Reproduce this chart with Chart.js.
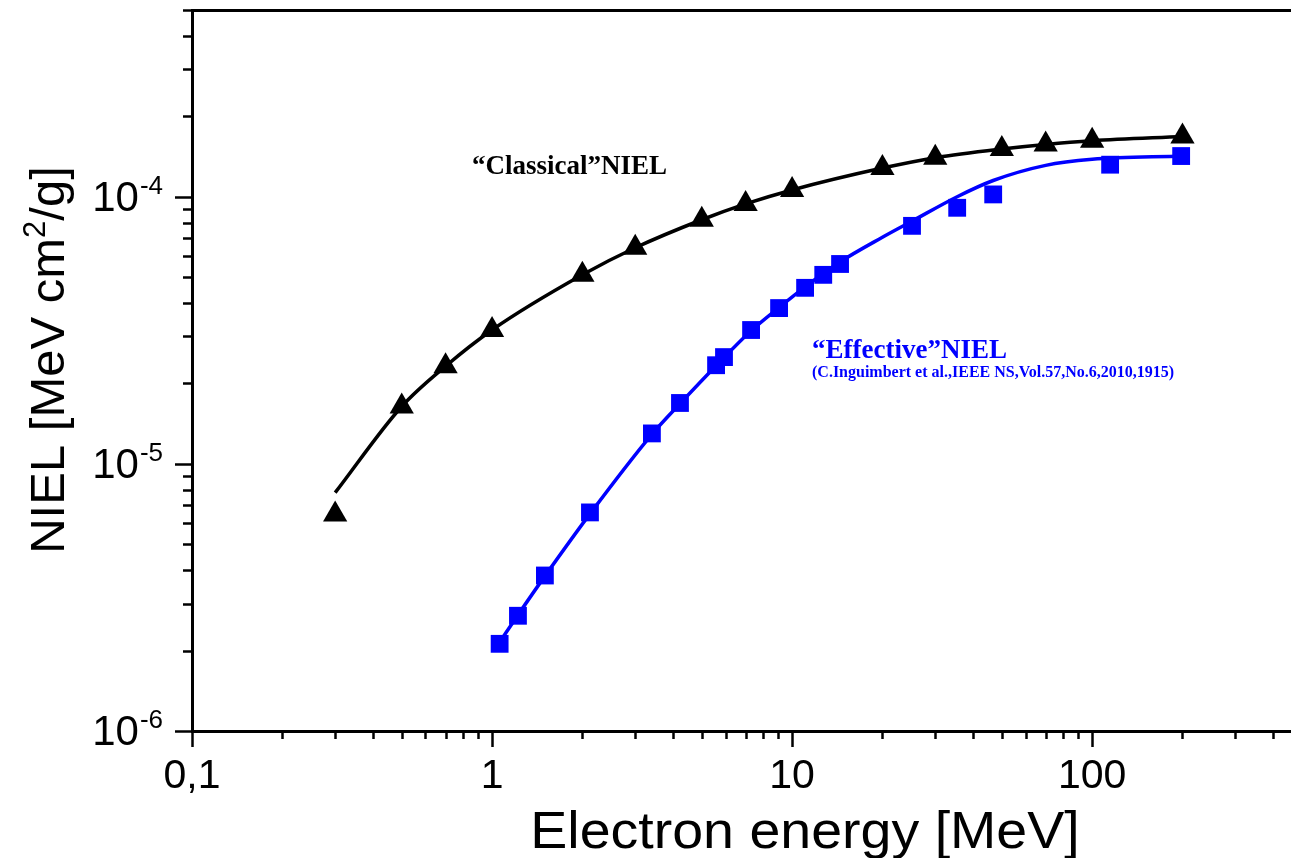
<!DOCTYPE html>
<html>
<head>
<meta charset="utf-8">
<script src="https://cdn.jsdelivr.net/npm/chart.js@4"></script>
<style>
  html, body { margin: 0; padding: 0; background: #fff; overflow: hidden; }
  canvas { display: block; }
</style>
</head>
<body>
<canvas id="nielChart" width="1291" height="858"></canvas>
<script>
// "Classical" NIEL (triangles)
const classicalEnergy = [0.3, 0.5, 0.7, 1, 2, 3, 5, 7, 10, 20, 30, 50, 70, 100, 200];
const classicalNiel = [6.46e-6, 1.64e-5, 2.32e-5, 3.17e-5, 5.1e-5, 6.44e-5, 8.2e-5, 9.4e-5,
    1.06e-4, 1.28e-4, 1.40e-4, 1.51e-4, 1.57e-4, 1.62e-4, 1.68e-4];
// fit curve through the classical points
const classicalFitEnergy = [0.3, 0.5, 0.7, 1, 2, 3, 5, 7, 10, 20, 30, 50, 70, 100, 200];
const classicalFitNiel = [7.8e-6, 1.64e-5, 2.32e-5, 3.17e-5, 5.1e-5, 6.44e-5, 8.2e-5, 9.4e-5,
    1.06e-4, 1.28e-4, 1.40e-4, 1.51e-4, 1.57e-4, 1.62e-4, 1.68e-4];

// "Effective" NIEL (squares)
const effectiveEnergy = [1.06, 1.22, 1.5, 2.12, 3.41, 4.23, 5.58, 5.93, 7.3, 9.05, 11.05,
    12.7, 14.45, 25.1, 35.5, 46.8, 114.8, 198];
const effectiveNiel = [2.12e-6, 2.70e-6, 3.82e-6, 6.58e-6, 1.30e-5, 1.69e-5, 2.34e-5, 2.51e-5,
    3.17e-5, 3.83e-5, 4.56e-5, 5.10e-5, 5.6e-5, 7.78e-5, 9.09e-5, 1.02e-4, 1.318e-4, 1.42e-4];
const effectiveFitEnergy = [1.06, 1.22, 1.5, 2.12, 3.41, 4.23, 5.58, 7.3, 9.05, 11.05, 14.45,
    20, 25.1, 35.5, 46.8, 70, 100, 200];
const effectiveFitNiel = [2.15e-6, 2.72e-6, 3.8e-6, 6.5e-6, 1.29e-5, 1.68e-5, 2.33e-5, 3.15e-5,
    3.85e-5, 4.6e-5, 5.7e-5, 7.05e-5, 8.1e-5, 1.0e-4, 1.15e-4, 1.31e-4, 1.38e-4, 1.42e-4];

// axes
const xTickValues = [0.1, 1, 10, 100];
const xTickLabels = ['0,1', '1', '10', '100'];
const yTickExponents = [-6, -5, -4];

const BLUE = 'rgb(0,0,255)';
const pts = (xs, ys) => xs.map((x, i) => ({ x: x, y: ys[i] }));

// outward ticks (long major / short minor) and tick labels, texts
const axisDeco = {
    id: 'axisDeco',
    afterDraw(chart) {
        const ctx = chart.ctx;
        const xs = chart.scales.x, ys = chart.scales.y;
        const area = chart.chartArea;
        ctx.save();
        ctx.strokeStyle = '#000';
        ctx.lineWidth = 2.5;
        // x ticks
        for (let d = -1; d <= 2; d++) {
            for (let m = 1; m <= 9; m++) {
                const v = m * Math.pow(10, d);
                if (v > xs.max) continue;
                const px = Math.round(xs.getPixelForValue(v)) + 0.5;
                const len = m === 1 ? 16 : 8;
                ctx.beginPath();
                ctx.moveTo(px, area.bottom);
                ctx.lineTo(px, area.bottom + len);
                ctx.stroke();
            }
        }
        // y ticks
        for (let d = -6; d <= -4; d++) {
            for (let m = 1; m <= 9; m++) {
                const v = m * Math.pow(10, d);
                if (v > ys.max * 1.001) continue;
                const py = Math.round(ys.getPixelForValue(v)) + 0.5;
                const len = m === 1 ? 17 : 9;
                ctx.beginPath();
                ctx.moveTo(area.left, py);
                ctx.lineTo(area.left - len, py);
                ctx.stroke();
            }
        }

        ctx.fillStyle = '#000';
        // x tick labels
        ctx.font = '41px "Liberation Sans", Arial, sans-serif';
        ctx.textAlign = 'center';
        ctx.textBaseline = 'alphabetic';
        xTickValues.forEach((v, i) => {
            ctx.fillText(xTickLabels[i], xs.getPixelForValue(v), 788);
        });
        // y tick labels 10^n
        yTickExponents.forEach(e => {
            const py = ys.getPixelForValue(Math.pow(10, e));
            const sup = '-' + Math.abs(e);
            ctx.font = '26px "Liberation Sans", Arial, sans-serif';
            const supW = ctx.measureText(sup).width;
            const right = 163;
            ctx.textAlign = 'left';
            ctx.fillText(sup, right - supW, py - 3);
            ctx.font = '42px "Liberation Sans", Arial, sans-serif';
            ctx.textAlign = 'right';
            ctx.fillText('10', right - supW - 1, py + 14);
        });

        // axis titles (x title slightly stretched, as in the source figure)
        ctx.save();
        ctx.translate(805, 848);
        ctx.scale(1.068, 1);
        ctx.font = '52px "Liberation Sans", Arial, sans-serif';
        ctx.textAlign = 'center';
        ctx.fillText('Electron energy [MeV]', 0, 0);
        ctx.restore();

        ctx.save();
        ctx.translate(64, 360);
        ctx.rotate(-Math.PI / 2);
        ctx.font = '49px "Liberation Sans", Arial, sans-serif';
        const t1 = 'NIEL [MeV cm', t2 = '2', t3 = '/g]';
        const w1 = ctx.measureText(t1).width;
        const w3 = ctx.measureText(t3).width;
        ctx.font = '31px "Liberation Sans", Arial, sans-serif';
        const w2 = ctx.measureText(t2).width;
        const total = w1 + w2 + w3;
        ctx.textAlign = 'left';
        ctx.font = '49px "Liberation Sans", Arial, sans-serif';
        ctx.fillText(t1, -total / 2, 0);
        ctx.fillText(t3, -total / 2 + w1 + w2, 0);
        ctx.font = '31px "Liberation Sans", Arial, sans-serif';
        ctx.fillText(t2, -total / 2 + w1, -19);
        ctx.restore();

        // annotations
        ctx.textAlign = 'left';
        ctx.font = 'bold 27px "Liberation Serif", "Times New Roman", serif';
        ctx.fillStyle = '#000';
        ctx.fillText('\u201CClassical\u201DNIEL', 472, 174);
        ctx.fillStyle = BLUE;
        ctx.fillText('\u201CEffective\u201DNIEL', 812, 358);
        ctx.font = 'bold 16px "Liberation Serif", "Times New Roman", serif';
        ctx.fillText('(C.Inguimbert et al.,IEEE NS,Vol.57,No.6,2010,1915)', 812, 377);
        ctx.restore();
    }
};

const ctx = document.getElementById('nielChart').getContext('2d');
new Chart(ctx, {
    type: 'scatter',
    data: {
        datasets: [{
            label: 'Classical',
            data: pts(classicalEnergy, classicalNiel),
            pointStyle: 'triangle',
            pointRadius: 14,
            backgroundColor: '#000',
            borderColor: '#000',
            borderWidth: 0,
            order: 0
        }, {
            label: 'Effective',
            data: pts(effectiveEnergy, effectiveNiel),
            pointStyle: 'rect',
            pointRadius: 12.6,
            backgroundColor: BLUE,
            borderColor: BLUE,
            borderWidth: 0,
            order: 0
        }, {
            label: 'Classical fit',
            data: pts(classicalFitEnergy, classicalFitNiel),
            showLine: true,
            pointRadius: 0,
            borderColor: '#000',
            borderWidth: 3.5,
            cubicInterpolationMode: 'monotone',
            order: 1
        }, {
            label: 'Effective fit',
            data: pts(effectiveFitEnergy, effectiveFitNiel),
            showLine: true,
            pointRadius: 0,
            borderColor: BLUE,
            borderWidth: 3.5,
            cubicInterpolationMode: 'monotone',
            order: 1
        }]
    },
    options: {
        responsive: false,
        animation: false,
        devicePixelRatio: 1,
        layout: { padding: 0, autoPadding: false },
        plugins: {
            legend: { display: false },
            tooltip: { enabled: false }
        },
        scales: {
            x: {
                type: 'logarithmic',
                position: 'bottom',
                min: 0.1,
                max: 460,
                ticks: { display: false },
                grid: { display: false },
                border: { display: true, color: '#000', width: 3 },
                afterFit: s => { s.height = 127; }
            },
            x2: {
                type: 'logarithmic',
                position: 'top',
                min: 0.1,
                max: 460,
                ticks: { display: false },
                grid: { display: false },
                border: { display: true, color: '#000', width: 3 },
                afterFit: s => { s.height = 10; }
            },
            y: {
                type: 'logarithmic',
                position: 'left',
                min: 1e-6,
                max: 5e-4,
                ticks: { display: false },
                grid: { display: false },
                border: { display: true, color: '#000', width: 3 },
                afterFit: s => { s.width = 192; }
            }
        }
    },
    plugins: [axisDeco]
});
</script>
</body>
</html>
